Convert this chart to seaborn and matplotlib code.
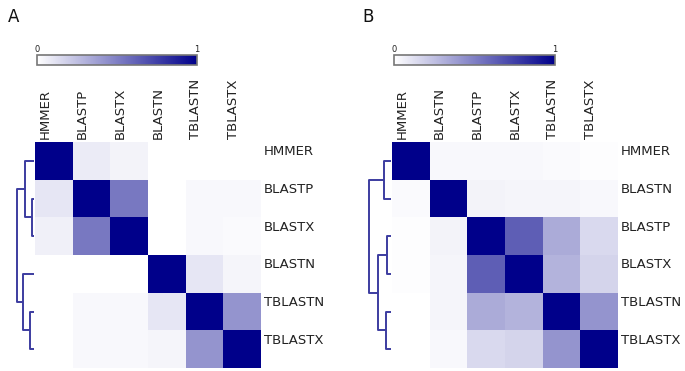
import numpy as np
import pandas as pd
import matplotlib
matplotlib.use("Agg")
import matplotlib.pyplot as plt
import seaborn as sns
from matplotlib.colors import LinearSegmentedColormap
from matplotlib.transforms import ScaledTranslation

# ---------------- data ----------------
labels_a = ["HMMER", "BLASTP", "BLASTX", "BLASTN", "TBLASTN", "TBLASTX"]
sim_a = [
    [1.00, 0.08, 0.05, 0.00, 0.00, 0.00],
    [0.10, 1.00, 0.53, 0.00, 0.03, 0.03],
    [0.06, 0.53, 1.00, 0.00, 0.03, 0.02],
    [0.00, 0.00, 0.00, 1.00, 0.10, 0.04],
    [0.00, 0.03, 0.03, 0.10, 1.00, 0.42],
    [0.00, 0.03, 0.03, 0.04, 0.42, 1.00],
]
# merges: (child_i, child_j, height); new clusters numbered from len(labels)
link_a = [(1, 2, 0.12), (4, 5, 0.24), (0, 6, 0.53), (3, 7, 0.65), (8, 9, 1.00)]

labels_b = ["HMMER", "BLASTN", "BLASTP", "BLASTX", "TBLASTN", "TBLASTX"]
sim_b = [
    [1.00, 0.03, 0.03, 0.03, 0.02, 0.01],
    [0.02, 1.00, 0.05, 0.04, 0.04, 0.03],
    [0.01, 0.05, 1.00, 0.63, 0.33, 0.15],
    [0.01, 0.04, 0.63, 1.00, 0.30, 0.17],
    [0.00, 0.04, 0.33, 0.30, 1.00, 0.42],
    [0.00, 0.03, 0.15, 0.17, 0.42, 1.00],
]
link_b = [(2, 3, 0.17), (4, 5, 0.22), (0, 1, 0.30), (6, 7, 0.61), (8, 9, 1.00)]

panel_letters = ["A", "B"]
cbar_ticks = [0, 1]

# ---------------- style ----------------
W, H = 685, 371
DPI = 100
cmap = LinearSegmentedColormap.from_list("wn", ["#ffffff", "#00008a"])
dendro_color = "#3c3ca0"
text_color = "#222222"

fig = plt.figure(figsize=(W / DPI, H / DPI), dpi=DPI)
fig.patch.set_facecolor("white")


def px_axes(x0, y0, x1, y1):
    return fig.add_axes([x0 / W, 1 - y1 / H, (x1 - x0) / W, (y1 - y0) / H])


def draw_dendro(ax, link, n):
    pos = {i: (0.0, i + 0.5) for i in range(n)}
    nxt = n
    for a, b, h in link:
        ha, ya = pos[a]
        hb, yb = pos[b]
        ax.plot([ha, h, h, hb], [ya, ya, yb, yb], color=dendro_color,
                lw=1.4, solid_capstyle="butt", clip_on=False)
        pos[nxt] = (h, (ya + yb) / 2)
        nxt += 1
    ax.set_xlim(1, 0)
    ax.set_ylim(n, 0)
    ax.axis("off")


panels = [
    dict(labels=labels_a, sim=sim_a, link=link_a, hx=35, dx0=17, cb=(37, 197), lx=8),
    dict(labels=labels_b, sim=sim_b, link=link_b, hx=392, dx0=369, cb=(394, 555), lx=362),
]

for p, letter in zip(panels, panel_letters):
    hx = p["hx"]
    hy0, hy1 = 142, 368
    size = hy1 - hy0
    ax = px_axes(hx, hy0, hx + size, hy1)
    cax = px_axes(p["cb"][0], 55, p["cb"][1], 65)
    df = pd.DataFrame(p["sim"], index=p["labels"], columns=p["labels"])
    sns.heatmap(df, ax=ax, cmap=cmap, vmin=0, vmax=1, cbar_ax=cax,
                cbar_kws={"orientation": "horizontal", "ticks": cbar_ticks},
                square=False, linewidths=0)
    # column labels on top, row labels right
    ax.xaxis.tick_top()
    ax.yaxis.tick_right()
    ax.tick_params(axis="both", length=0, pad=2, labelsize=9.5, labelcolor=text_color)
    for t in ax.get_xticklabels():
        t.set_rotation(90)
        t.set_va("bottom")
        t.set_ha("center")
        t.set_transform(t.get_transform() + ScaledTranslation(-9 / DPI, 0, fig.dpi_scale_trans))
    for t in ax.get_yticklabels():
        t.set_rotation(0)
        t.set_va("center")
        t.set_transform(t.get_transform() + ScaledTranslation(0, 9 / DPI, fig.dpi_scale_trans))
    # colorbar
    cax.xaxis.set_ticks_position("top")
    cax.tick_params(length=0, pad=0.5, labelsize=6, labelcolor=text_color)
    cb = ax.collections[0].colorbar
    cb.outline.set_edgecolor("#777777")
    cb.outline.set_linewidth(1.2)
    # dendrogram
    dax = px_axes(p["dx0"], hy0, hx - 1, hy1)
    draw_dendro(dax, p["link"], len(p["labels"]))
    # panel letter
    fig.text(p["lx"] / W, 1 - 17 / H, letter, fontsize=12, color="#111111",
             ha="left", va="center")

fig.savefig("out.png", dpi=DPI, facecolor="white")
